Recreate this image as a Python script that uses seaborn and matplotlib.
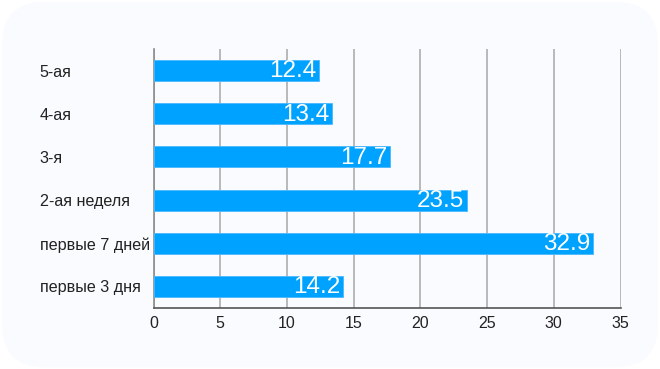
import matplotlib
matplotlib.use("Agg")
import matplotlib.pyplot as plt
from matplotlib.patches import FancyBboxPatch
import seaborn as sns
import pandas as pd

sns.set_style("white")
plt.rcParams['font.family'] = ['Liberation Sans', 'DejaVu Sans']

categories = ["5-ая", "4-ая", "3-я", "2-ая неделя", "первые 7 дней", "первые 3 дня"]
values = [12.4, 13.4, 17.7, 23.5, 32.9, 14.2]
xticks = [0, 5, 10, 15, 20, 25, 30, 35]

df = pd.DataFrame({"cat": categories, "val": values})

fig = plt.figure(figsize=(6.6, 3.69), dpi=100)
fig.patch.set_facecolor("white")
bg = FancyBboxPatch((0.003, 0.005), 0.994, 0.99, boxstyle="round,pad=0,rounding_size=0.065",
                    transform=fig.transFigure, facecolor="#f9fbfe", edgecolor="none",
                    mutation_aspect=660 / 369, zorder=-5)
fig.patches.append(bg)

ax = fig.add_axes([0.2326, 0.1653, 0.7076, 0.7019])
ax.set_facecolor("none")
sns.barplot(data=df, y="cat", x="val", orient="h", color="#00a2ff", width=0.49,
            edgecolor="#4ab8ff", linewidth=0.6, ax=ax, zorder=3, saturation=1)

for i, v in enumerate(values):
    ax.text(v - 0.2, i + 0.02, f"{v}", ha="right", va="center", color="white",
            fontsize=17.5, zorder=4)

ax.set_xlim(0, 35)
ax.set_ylim(5.5, -0.5)
ax.set_xticks(xticks)
ax.grid(axis="x", color="#b3b3b3", linewidth=1.3, zorder=0)
ax.set_axisbelow(True)
ax.set_xlabel("")
ax.set_ylabel("")
for s in ["top", "right"]:
    ax.spines[s].set_visible(False)
ax.spines["left"].set_color("#8c8c8c")
ax.spines["bottom"].set_color("#555555")
ax.spines["left"].set_linewidth(1.2)
ax.spines["bottom"].set_linewidth(1.2)
ax.tick_params(axis="x", labelsize=11.5, colors="#222222", length=0, pad=6)
ax.tick_params(axis="y", labelsize=11.6, colors="#222222", length=0, pad=82)
for lbl in ax.get_yticklabels():
    lbl.set_horizontalalignment("left")

fig.savefig("out.png", dpi=100)
